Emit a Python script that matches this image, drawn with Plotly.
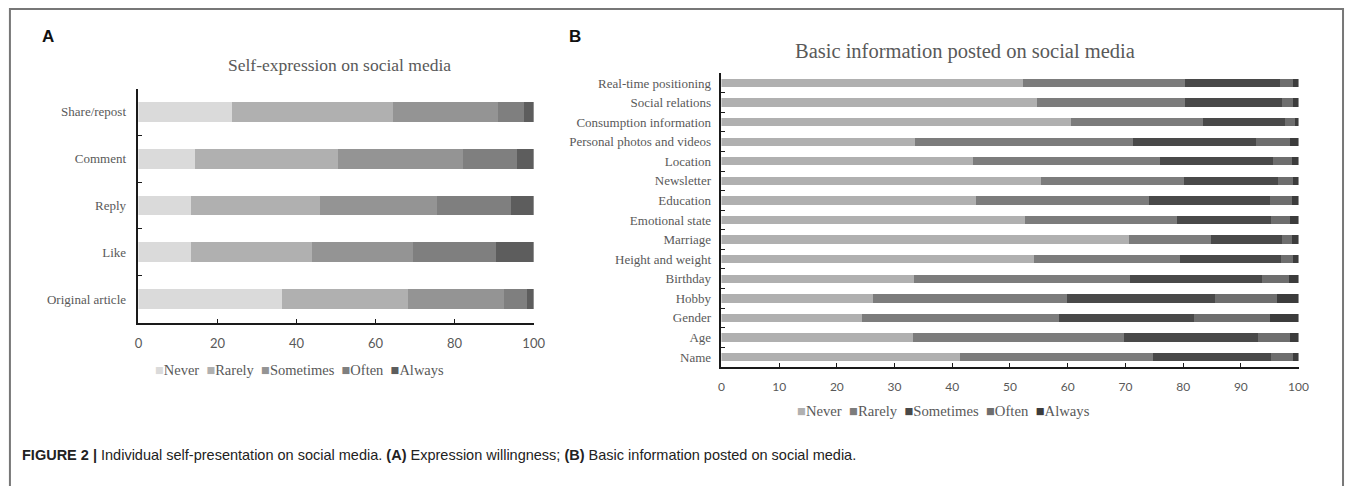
import plotly.graph_objects as go

W, H = 1357, 486

levels = ["Never", "Rarely", "Sometimes", "Often", "Always"]

# Panel A: Self-expression on social media (percent), top to bottom
cats_a = ["Share/repost", "Comment", "Reply", "Like", "Original article"]
a_never = [23.8, 14.3, 13.2, 13.2, 36.4]
a_rarely = [40.7, 36.3, 32.7, 30.7, 31.8]
a_sometimes = [26.5, 31.6, 29.7, 25.5, 24.3]
a_often = [6.6, 13.7, 18.6, 21.1, 5.7]
a_always = [2.4, 4.1, 5.8, 9.5, 1.8]

# Panel B: Basic information posted on social media (percent), top to bottom
cats_b = ["Real-time positioning", "Social relations", "Consumption information",
          "Personal photos and videos", "Location", "Newsletter", "Education",
          "Emotional state", "Marriage", "Height and weight", "Birthday", "Hobby",
          "Gender", "Age", "Name"]
b_never = [52.2, 54.6, 60.5, 33.5, 43.6, 55.4, 44.1, 52.6, 70.7, 54.1, 33.4, 26.2, 24.4, 33.2, 41.3]
b_rarely = [28.1, 25.8, 22.9, 37.9, 32.4, 24.7, 30.0, 26.4, 14.1, 25.4, 37.4, 33.7, 34.1, 36.6, 33.4]
b_sometimes = [16.5, 16.8, 14.3, 21.3, 19.6, 16.4, 20.9, 16.3, 12.3, 17.4, 22.8, 25.6, 23.3, 23.1, 20.6]
b_often = [2.3, 1.8, 1.6, 5.9, 3.3, 2.5, 3.9, 3.2, 1.8, 2.2, 4.7, 10.7, 13.2, 5.6, 3.8]
b_always = [0.9, 1.0, 0.7, 1.4, 1.1, 1.0, 1.1, 1.5, 1.1, 0.9, 1.7, 3.8, 5.0, 1.5, 0.9]

ticks_a = [0, 20, 40, 60, 80, 100]
ticks_b = [0, 10, 20, 30, 40, 50, 60, 70, 80, 90, 100]

colors_a = ["#dadada", "#b0b0b0", "#949494", "#7f7f7f", "#5d5d5d"]
colors_b = ["#b0b0b0", "#7c7c7c", "#494949", "#6e6e6e", "#3c3c3c"]

series_a = [a_never, a_rarely, a_sometimes, a_often, a_always]
series_b = [b_never, b_rarely, b_sometimes, b_often, b_always]

TXT = "#595959"
SERIF = "Liberation Serif, Times New Roman, serif"
SANS_NUM = "Lato, Liberation Sans, sans-serif"


def px(x):
    return x / W


def py(y):
    return 1 - y / H


fig = go.Figure()
for name, vals, col in zip(levels, series_a, colors_a):
    fig.add_trace(go.Bar(x=vals, y=cats_a, orientation="h", name=name,
                         marker=dict(color=col, line=dict(width=0)), width=0.42,
                         xaxis="x", yaxis="y", showlegend=False))
for name, vals, col in zip(levels, series_b, colors_b):
    fig.add_trace(go.Bar(x=vals, y=cats_b, orientation="h", name=name,
                         marker=dict(color=col, line=dict(width=0)), width=0.43,
                         xaxis="x2", yaxis="y2", showlegend=False))

axis_common = dict(showgrid=False, zeroline=False, showline=True, linecolor="#1a1a1a",
                   linewidth=1.5, ticks="inside", tickcolor="#1a1a1a", ticklen=4, tickwidth=1.2)

fig.update_layout(
    width=W, height=H, margin=dict(l=0, r=0, t=0, b=0),
    paper_bgcolor="white", plot_bgcolor="white", barmode="stack", bargap=0.5,
    xaxis=dict(domain=[px(136), px(536)], range=[0, 100], tickvals=ticks_a,
               anchor="y", tickfont=dict(family=SANS_NUM, size=13, color=TXT),
               ticklabelstandoff=8, **axis_common),
    yaxis=dict(domain=[py(322.5), py(88.5)], anchor="x", type="category",
               categoryorder="array", categoryarray=cats_a, autorange="reversed",
               tickson="boundaries", tickfont=dict(family=SERIF, size=13, color=TXT),
               ticklabelstandoff=8, **axis_common),
    xaxis2=dict(domain=[px(726), px(1310)], range=[0, 100], tickvals=ticks_b,
                anchor="y2", tickfont=dict(family=SANS_NUM, size=12, color=TXT),
                ticklabelstandoff=8, **axis_common),
    yaxis2=dict(domain=[py(366.8), py(73.2)], anchor="x2", type="category",
                categoryorder="array", categoryarray=cats_b, autorange="reversed",
                tickson="boundaries", tickfont=dict(family=SERIF, size=13, color=TXT),
                ticklabelstandoff=6, **axis_common),
)


def legend_text(colors):
    parts = []
    for name, col in zip(levels, colors):
        parts.append('<span style="color:%s">■</span>%s' % (col, name))
    return "&nbsp;&nbsp;".join(parts)


annotations = [
    dict(text="<b>A</b>", x=px(36), y=py(36), xref="paper", yref="paper", showarrow=False,
         xanchor="left", yanchor="middle", font=dict(family="Liberation Sans, Arial", size=17, color="#111")),
    dict(text="<b>B</b>", x=px(570), y=py(36), xref="paper", yref="paper", showarrow=False,
         xanchor="left", yanchor="middle", font=dict(family="Liberation Sans, Arial", size=17, color="#111")),
    dict(text="Self-expression on social media", x=px(340), y=py(65), xref="paper", yref="paper",
         showarrow=False, xanchor="center", yanchor="middle", font=dict(family=SERIF, size=17.5, color=TXT)),
    dict(text="Basic information posted on social media", x=px(972), y=py(51), xref="paper", yref="paper",
         showarrow=False, xanchor="center", yanchor="middle", font=dict(family=SERIF, size=20.5, color=TXT)),
    dict(text=legend_text(colors_a), x=px(299), y=py(370), xref="paper", yref="paper",
         showarrow=False, xanchor="center", yanchor="middle", font=dict(family=SERIF, size=14.5, color=TXT)),
    dict(text=legend_text(colors_b), x=px(951), y=py(411), xref="paper", yref="paper",
         showarrow=False, xanchor="center", yanchor="middle", font=dict(family=SERIF, size=14.7, color=TXT)),
    dict(text="<b>FIGURE 2 |</b> Individual self-presentation on social media. <b>(A)</b> Expression willingness; "
              "<b>(B)</b> Basic information posted on social media.",
         x=px(16), y=py(455), xref="paper", yref="paper", showarrow=False, xanchor="left", yanchor="middle",
         font=dict(family="Liberation Sans Narrow, Liberation Sans, Arial", size=14.5, color="#222")),
]
fig.update_layout(annotations=annotations)

fig.add_shape(type="rect", xref="paper", yref="paper", x0=px(6), x1=px(1355), y0=py(520), y1=py(9),
              line=dict(color="#777777", width=2), fillcolor="rgba(0,0,0,0)", layer="below")

fig.write_html("out.html", config={"displayModeBar": False},
               post_script="document.body.style.margin='0';document.body.style.overflow='hidden';")
